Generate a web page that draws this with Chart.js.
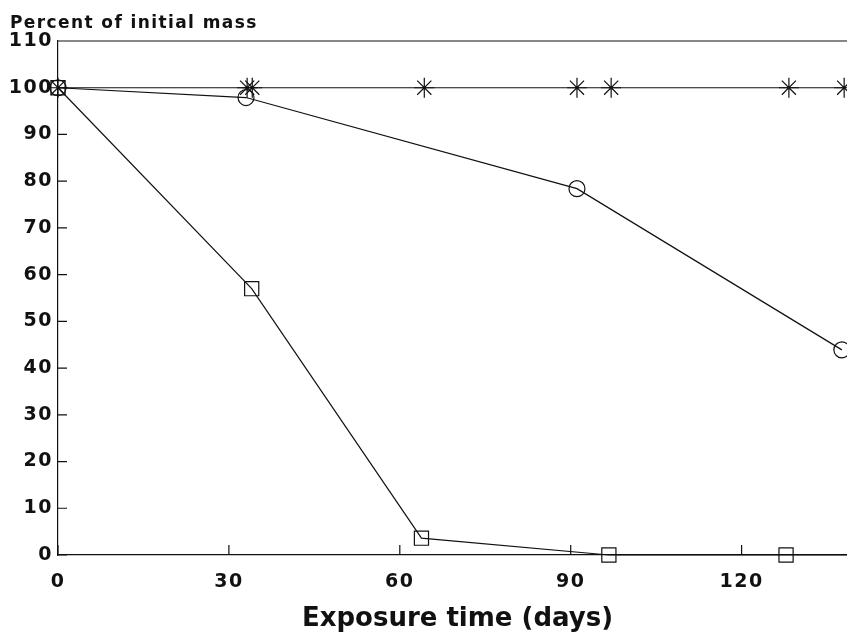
<!DOCTYPE html>
<html><head><meta charset="utf-8">
<script src="https://cdn.jsdelivr.net/npm/chart.js@4/dist/chart.umd.min.js"></script>
<style>html,body{margin:0;padding:0;background:#fff}#wrap{width:847px;height:636px}</style>
</head><body><div id="wrap"><canvas id="c" width="847" height="636"></canvas></div>
<script>
const starDays = [0, 33.2, 34.1, 64.3, 91.1, 97.1, 128.3, 138];
const starVals = [100, 100, 100, 100, 100, 100, 100, 100];
const circleDays = [0, 33, 91.1, 137.6];
const circleVals = [100, 97.9, 78.4, 43.9];
const squareDays = [0, 34, 63.8, 96.7, 127.8, 145];
const squareVals = [100, 57, 3.6, 0, 0, 0];
const xTicks = [0, 30, 60, 90, 120];
const yTicks = [0, 10, 20, 30, 40, 50, 60, 70, 80, 90, 100, 110];
const yTitle = 'Percent of initial mass';
const xTitle = 'Exposure time (days)';

const pts = (xs, ys) => xs.map((x, i) => ({x, y: ys[i]}));
const FONT = '"DejaVu Sans", sans-serif';

const inner = {
  id: 'inner',
  beforeDraw(chart) { chart.ctx.letterSpacing = '1.5px'; },
  afterDraw(chart) {
    const {ctx, chartArea: a, scales: {x, y}} = chart;
    ctx.save();
    ctx.strokeStyle = '#111';
    ctx.lineWidth = 1.2;
    ctx.beginPath();
    ctx.moveTo(a.left, a.top); ctx.lineTo(a.right, a.top);
    yTicks.forEach(v => { const p = y.getPixelForValue(v); ctx.moveTo(a.left, p); ctx.lineTo(a.left + 9, p); });
    xTicks.forEach(v => { const p = x.getPixelForValue(v); ctx.moveTo(p, a.bottom); ctx.lineTo(p, a.bottom - 10); });
    ctx.stroke();
    ctx.fillStyle = '#111';
    ctx.textBaseline = 'alphabetic';
    ctx.textAlign = 'left';
    ctx.letterSpacing = '1.4px';
    ctx.font = 'bold 17px ' + FONT;
    ctx.fillText(yTitle, 10, 28);
    ctx.letterSpacing = '0px';
    ctx.font = 'bold 26px ' + FONT;
    ctx.textAlign = 'center';
    ctx.fillText(xTitle, (a.left + a.right) / 2 + 5, 626);
    ctx.restore();
  }
};

const common = {borderColor: '#111', borderWidth: 1.2, pointBorderColor: '#111', pointBackgroundColor: 'rgba(0,0,0,0)', pointBorderWidth: 1.2, fill: false, tension: 0, clip: false};

new Chart(document.getElementById('c'), {
  type: 'line',
  data: {datasets: [
    Object.assign({label: 'star', data: pts(starDays, starVals), pointStyle: 'star', pointRadius: 10}, common),
    Object.assign({label: 'circle', data: pts(circleDays, circleVals), pointStyle: 'circle', pointRadius: 8}, common),
    Object.assign({label: 'square', data: pts(squareDays, squareVals), pointStyle: 'rect', pointRadius: 10}, common)
  ]},
  options: {
    responsive: false, animation: false,
    layout: {autoPadding: false, padding: {top: 41, right: 0, left: 0, bottom: 0}},
    plugins: {legend: {display: false}, tooltip: {enabled: false}, title: {display: false}},
    scales: {
      x: {type: 'linear', min: 0, max: 138.5,
        afterBuildTicks: s => { s.ticks = xTicks.map(v => ({value: v})); },
        afterFit: s => { s.height = 81; s.paddingLeft = 0; s.paddingRight = 0; },
        grid: {display: false, drawTicks: false},
        border: {display: true, color: '#111', width: 1.2},
        ticks: {color: '#111', font: {family: FONT, size: 19, weight: 'bold'}, padding: 16, maxRotation: 0},
        title: {display: false}
      },
      y: {type: 'linear', min: 0, max: 110,
        afterBuildTicks: s => { s.ticks = yTicks.map(v => ({value: v})); },
        afterFit: s => { s.width = 58; s.paddingTop = 0; s.paddingBottom = 0; },
        grid: {display: false, drawTicks: false},
        border: {display: true, color: '#111', width: 1.2},
        ticks: {color: '#111', font: {family: FONT, size: 19, weight: 'bold'}, padding: 5}
      }
    }
  },
  plugins: [inner]
});
</script></body></html>
